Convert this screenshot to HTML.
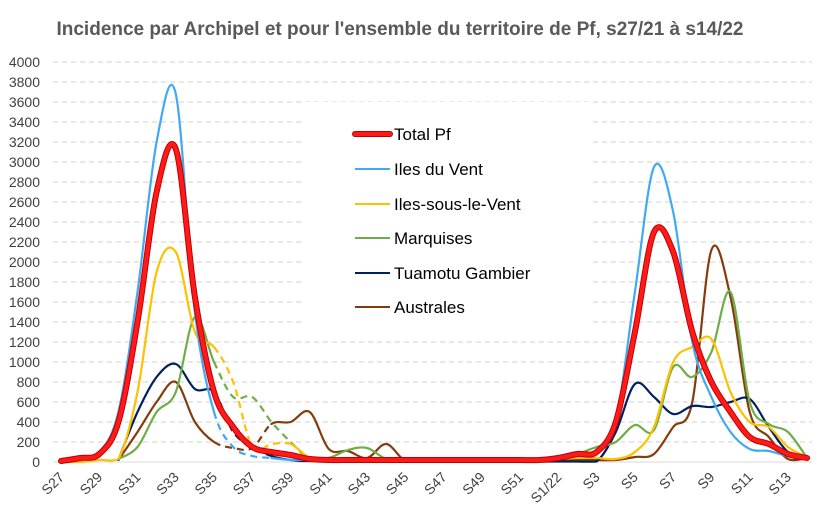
<!DOCTYPE html>
<html><head><meta charset="utf-8"><style>
html,body{margin:0;padding:0;background:#fff;}
svg{display:block;font-family:"Liberation Sans",Calibri,sans-serif;}
</style></head><body>
<svg id="s" width="820" height="530" viewBox="0 0 820 530" xmlns="http://www.w3.org/2000/svg">
<rect width="820" height="530" fill="#fff"/>
<text x="400" y="35" text-anchor="middle" font-size="19" font-weight="bold" fill="#595959">Incidence par Archipel et pour l'ensemble du territoire de Pf, s27/21 à s14/22</text>
<g id="grid"></g>
<g id="ylab" font-size="14" fill="#404040" text-anchor="end"></g>
<g id="xlab" font-size="14" fill="#404040" text-anchor="end"></g>
<g id="series" fill="none" stroke-linejoin="round" stroke-linecap="round"></g>
<rect x="302" y="102" width="288" height="228" fill="#fff"/>
<g font-size="17" fill="#000">
<line x1="355" y1="134" x2="390" y2="134" stroke="#c00000" stroke-width="6" stroke-linecap="round"/>
<line x1="355" y1="134" x2="390" y2="134" stroke="#ff1a1a" stroke-width="4" stroke-linecap="round"/>
<text x="394" y="140">Total Pf</text>
<line x1="355" y1="169" x2="390" y2="169" stroke="#3fa9f5" stroke-width="2"/>
<text x="394" y="175">Iles du Vent</text>
<line x1="355" y1="204" x2="390" y2="204" stroke="#ffc000" stroke-width="2"/>
<text x="394" y="210">Iles-sous-le-Vent</text>
<line x1="355" y1="238" x2="390" y2="238" stroke="#70ad47" stroke-width="2"/>
<text x="394" y="244">Marquises</text>
<line x1="355" y1="273" x2="390" y2="273" stroke="#002060" stroke-width="2"/>
<text x="394" y="279">Tuamotu Gambier</text>
<line x1="355" y1="307" x2="390" y2="307" stroke="#843c0c" stroke-width="2"/>
<text x="394" y="313">Australes</text>
</g>
</svg>
<script>
var NS="http://www.w3.org/2000/svg";
function el(t,a,p){var e=document.createElementNS(NS,t);for(var k in a)e.setAttribute(k,a[k]);p.appendChild(e);return e;}
var X0=61,DX=19.13;function X(i){return X0+DX*i;}function Y(v){return 462-0.1*v;}
var g=document.getElementById('grid'),yl=document.getElementById('ylab'),xl=document.getElementById('xlab');
for(var v=0;v<=4000;v+=200){
 if(v>0)el('line',{x1:53,x2:812,y1:Y(v),y2:Y(v),stroke:'#d9d9d9','stroke-width':1.2,'stroke-dasharray':'5,4'},g);
 else el('line',{x1:53,x2:812,y1:462,y2:462,stroke:'#d9d9d9','stroke-width':1},g);
 var t=el('text',{x:40,y:Y(v)+5},yl);t.textContent=v;
}
var labs=[];for(var w=27;w<=52;w++)labs.push('S'+w);for(var w=1;w<=14;w++)labs.push(w==1?'S1/22':'S'+w);
for(var i=0;i<40;i+=2){var x=X(i)+4,y=478;var t=el('text',{x:x,y:y,transform:'rotate(-45 '+x+' '+y+')'},xl);t.textContent=labs[i];}
function z(n,v){var a=[];for(var i=0;i<n;i++)a.push(v);return a;}
var D={
red:[10,40,80,400,1400,2700,3130,1650,700,350,150,100,70,30].concat(z(12,20),[40,80,100,400,1300,2300,2100,1300,800,500,250,180,80,40]),
blue:[10,50,100,500,1700,3200,3680,1500,500,150,60,40,20,20].concat(z(12,15),[60,100,100,400,1700,2950,2500,1200,650,300,130,110,60,40]),
yel:[0,0,20,30,700,1900,2100,1300,1150,800,150,180,180,40].concat(z(12,10),[30,40,40,30,100,350,1000,1150,1230,700,400,350,150,50]),
grn:[null,null,null,30,150,500,700,1450,1000,650,650,400,200,30,40,120,140,30,20].concat(z(7,20),[30,80,150,200,370,320,950,850,1100,1700,600,380,300,40]),
nav:[null,null,null,20,500,850,980,730,700,300,150,60,20,10,40,20,30,5].concat(z(9,5),[5,5,300,780,650,480,560,550,600,630,350,100,40]),
brn:[null,null,null,20,300,600,800,400,200,140,140,380,400,500,130,110,40,180,10].concat(z(7,20),[20,20,20,20,50,80,350,600,2120,1650,500,250,30,40])
};
function pts(a){var p=[];for(var i=0;i<a.length&&i<40;i++)if(a[i]!=null)p.push([X(i),Y(a[i]),i]);return p;}
function seg(p,from,to){var s=p.filter(function(q){return q[2]>=from&&q[2]<=to;});
 if(s.length<2)return '';
 var full=p;var d='M'+s[0][0]+','+s[0][1];
 for(var k=0;k<s.length-1;k++){
  var idx=full.indexOf(s[k]);var p0=full[Math.max(idx-1,0)],p1=full[idx],p2=full[idx+1],p3=full[Math.min(idx+2,full.length-1)];
  var t=6;var c1x=p1[0]+(p2[0]-p0[0])/t,c1y=p1[1]+(p2[1]-p0[1])/t,c2x=p2[0]-(p3[0]-p1[0])/t,c2y=p2[1]-(p3[1]-p1[1])/t;
  c1y=Math.min(c1y,462);c2y=Math.min(c2y,462);
  d+=' C'+c1x.toFixed(1)+','+c1y.toFixed(1)+' '+c2x.toFixed(1)+','+c2y.toFixed(1)+' '+p2[0].toFixed(1)+','+p2[1].toFixed(1);
 }return d;}
var S=document.getElementById('series');
function draw(a,col,w,dash){var p=pts(a);
 if(dash){el('path',{d:seg(p,0,dash[0]),stroke:col,'stroke-width':w},S);
  el('path',{d:seg(p,dash[0],dash[1]),stroke:col,'stroke-width':w,'stroke-dasharray':'7,5','stroke-linecap':'butt'},S);
  el('path',{d:seg(p,dash[1],40),stroke:col,'stroke-width':w},S);}
 else el('path',{d:seg(p,0,40),stroke:col,'stroke-width':w},S);}
draw(D.brn,'#843c0c',2.2,[8,11]);
draw(D.nav,'#002060',2.2,[8,11]);
draw(D.grn,'#70ad47',2.2,[8,13]);
draw(D.yel,'#ffc000',2.2,[8,12]);
draw(D.blue,'#3fa9f5',2.2,[8,11]);
var pr=pts(D.red);el('path',{d:seg(pr,0,40),stroke:'#c00000','stroke-width':6},S);el('path',{d:seg(pr,0,40),stroke:'#ff1a1a','stroke-width':4},S);
</script>
</body></html>
